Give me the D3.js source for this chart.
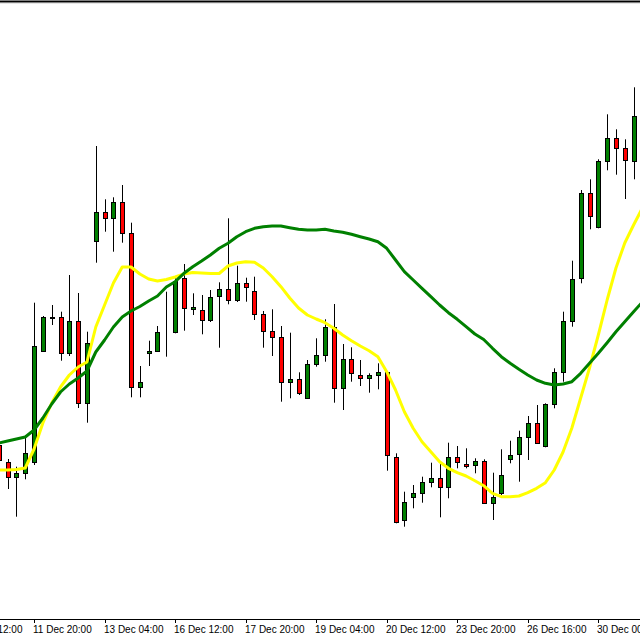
<!DOCTYPE html>
<html>
<head>
<meta charset="utf-8">
<script src="https://cdn.jsdelivr.net/npm/d3@7"></script>
<style>
  html, body { margin: 0; padding: 0; background: #ffffff; }
  svg { display: block; }
</style>
</head>
<body>
<svg id="chart" width="640" height="640"></svg>
<script>
// ---- DATA (H4 candles, index 0 = first (partially visible) bar) ----
const open  = [555,538.3,522.7,527.3,538,649.3,682,682.7,647.3,679.3,597.3,759.3,788.3,781.7,798.3,767.3,612.7,647.3,649.3,668.3,667.7,721.7,691.5,690,680,704.3,710.7,700,716.7,709,686,669,662.7,618.3,620.7,601.7,635.7,645,673.3,611.7,640.7,625,621.7,625,628.3,543.3,480,503.3,507.3,518.3,521.7,512.7,542.7,536,535,539.3,497.3,506.7,541,546,563.3,576.7,554,595.7,628.3,679.3,721.7,806.7,773.3,839.3,861.7,851.7,839.3,884];
const high  = [560,541,533.3,562,697.3,684,695,688.3,725,707,668.3,854,800.7,802.7,815,777.3,634,659.3,674,708.3,721.7,736,706.7,705,710,717.7,781.7,734.3,722.3,723.3,689,690.7,674,667.3,627.7,640,661.7,680.7,696,656,652.7,640,626.7,636.7,629,546.7,508.3,515,523.3,537.3,536,557.3,554,551.7,541.7,540.7,527.3,550.7,559.3,569.3,584,595,596.7,631.7,688.3,739.3,810,820.7,840.7,885.7,870.7,860.7,912.7,895];
const low   = [535,511,483.3,520.7,535,648,675,639.3,644,592,577.3,737.3,768.3,748.3,757.3,602.7,602.7,634,648,643.3,666.7,669.3,685,665.7,678,652.3,695.7,698,698.3,680,652.3,644,598.3,601.7,605,601,633.3,638.3,597.3,590,618.3,614,607.3,610.7,529.3,476.7,473.3,491.7,497.3,512.7,482.7,501.7,531.7,531.7,526.7,497.3,480,505,536.7,518.3,540,556,552.7,591.7,618.3,673.3,716.7,770.7,771.7,829.7,825.3,801,820.7,840];
const close = [540,522.7,527.3,547.3,654,682.7,682.7,647.3,679.3,597.3,657.3,788.3,781.7,798.3,767.3,612.7,618.3,649.3,668.3,668.3,719.3,691.7,692.8,680,703.3,711,700,716.7,713.3,685.7,669,662.7,618.3,621,606.7,635.7,645,673.3,611.7,640.7,626.7,621.7,625,628.3,545,478.3,498.3,507.3,518.3,521.7,512.7,542.7,538.3,534,539,497.3,503.3,525,545,563.3,576.7,557.3,595.7,628.3,679.3,721,806.7,784,839.3,861.7,851.7,840,884,850];

// Fast moving average (yellow) and slow moving average (green), one value per bar
const maFast = [530,530,530.5,532,551,577,597,613,625,633,638,673,695,717,733,733,726,721,719,720.5,723,726,727.5,727,726.5,726.5,734,737,738.3,737.7,732,723.3,713.3,702,692,685,681,677.3,671.7,665,659.3,654,649.3,643.3,628.3,610,588.3,571.7,558.3,548.3,538.3,531.7,527.3,524,519.3,514.3,506.7,503.3,503.3,504,507.3,511.7,517.3,530,548,572,602,632,665,700,732,757,775,792];
const maSlow = [557,559,561,563,570,582,596,608,616,622,629,648,660,673,683,689,693.5,699,704,713,718.3,726.7,733.3,739,745,751.7,756.7,763.3,768.3,771.7,773.3,774,774,772.3,770.7,770,770,770.7,769,767.7,765.7,763.3,761,758.3,751.7,740,728.3,720,711.7,703.3,695,687.3,680.7,673.3,666,660.5,651.7,643.3,636.7,630.7,625,620,616.7,615,616,618.3,626.7,636.7,646.7,657.3,668.3,678.3,688.3,698];

// Time-axis labels and the bar index each one sits on
const tickLabels = ["10 Dec 12:00","11 Dec 20:00","13 Dec 04:00","16 Dec 12:00","17 Dec 20:00","19 Dec 04:00","20 Dec 12:00","23 Dec 20:00","26 Dec 16:00","30 Dec 00:00"];
const tickBars   = [-4, 4, 12, 20, 28, 36, 44, 52, 60, 68];

// ---- LAYOUT ----
const W = 640, H = 640;
const plotBottom = 619;
const svg = d3.select("#chart");

const x = d3.scaleLinear().domain([0, open.length - 1]).range([-1.2, 642.4]);
const y = d3.scaleLinear().domain([381, 1000]).range([plotBottom, 0]);

svg.append("rect").attr("width", W).attr("height", H).attr("fill", "#ffffff");

svg.append("defs").append("clipPath").attr("id", "plotClip")
  .append("rect").attr("x", 0).attr("y", 0).attr("width", W).attr("height", plotBottom);

const plot = svg.append("g").attr("clip-path", "url(#plotClip)");

const candles = d3.range(open.length).map(i => ({
  i, o: open[i], h: high[i], l: low[i], c: close[i]
}));

const px = d => Math.round(x(d.i)) + 0.5;

// wicks
plot.append("g").selectAll("line").data(candles).join("line")
  .attr("x1", px).attr("x2", px)
  .attr("y1", d => y(d.h)).attr("y2", d => y(d.l))
  .attr("stroke", "#000000").attr("stroke-width", 1);

// bodies
plot.append("g").selectAll("rect").data(candles).join("rect")
  .attr("x", d => px(d) - 2)
  .attr("width", 4)
  .attr("y", d => Math.round(y(Math.max(d.o, d.c))) + 0.5)
  .attr("height", d => Math.max(0, Math.round(y(Math.min(d.o, d.c))) - Math.round(y(Math.max(d.o, d.c)))))
  .attr("fill", d => d.c >= d.o ? "#008000" : "#ff0000")
  .attr("stroke", "#000000").attr("stroke-width", 1);

// moving averages
const line = d3.line().x((d, i) => x(i)).y(d => y(d));
plot.append("path").datum(maFast).attr("d", line)
  .attr("fill", "none").attr("stroke", "#ffff00").attr("stroke-width", 3)
  .attr("stroke-linejoin", "round");
plot.append("path").datum(maSlow).attr("d", line)
  .attr("fill", "none").attr("stroke", "#008000").attr("stroke-width", 3)
  .attr("stroke-linejoin", "round");

// top frame
svg.append("line").attr("x1", 0).attr("x2", W).attr("y1", 1.5).attr("y2", 1.5)
  .attr("stroke", "#000000").attr("stroke-width", 2);
svg.append("line").attr("x1", 0).attr("x2", W).attr("y1", 3.5).attr("y2", 3.5)
  .attr("stroke", "#e6e6e6").attr("stroke-width", 1);

// time axis
const axisG = svg.append("g");
axisG.append("line").attr("x1", 0).attr("x2", W)
  .attr("y1", plotBottom + 0.5).attr("y2", plotBottom + 0.5)
  .attr("stroke", "#000000").attr("stroke-width", 1);
const ticks = tickBars.map((b, k) => ({ b, label: tickLabels[k] }));
axisG.selectAll("line.tick").data(ticks).join("line").attr("class", "tick")
  .attr("x1", d => Math.round(x(d.b)) + 0.5).attr("x2", d => Math.round(x(d.b)) + 0.5)
  .attr("y1", plotBottom).attr("y2", plotBottom + 4)
  .attr("stroke", "#000000").attr("stroke-width", 1);
axisG.selectAll("text").data(ticks).join("text")
  .attr("x", d => Math.round(x(d.b)) - 1)
  .attr("y", 633)
  .attr("font-family", "'Liberation Sans', Arial, sans-serif")
  .attr("font-size", 10)
  .attr("fill", "#000000")
  .text(d => d.label);
</script>
</body>
</html>
